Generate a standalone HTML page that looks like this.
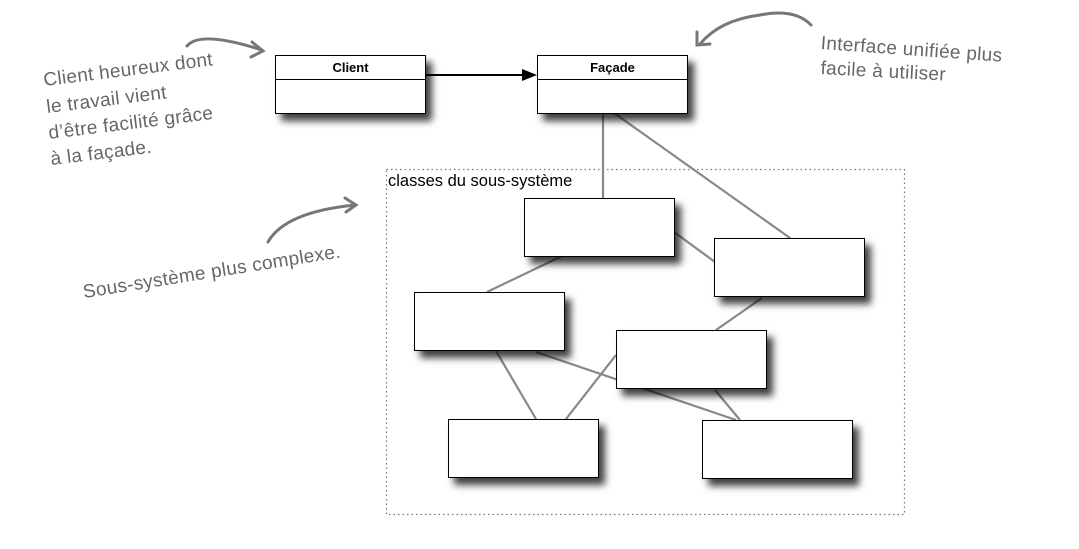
<!DOCTYPE html>
<html><head><meta charset="utf-8"><style>
body{margin:0;background:#fff;width:1079px;height:549px;overflow:hidden;position:relative;font-family:"Liberation Sans",sans-serif}
.b{position:absolute;background:#fff;border:1.5px solid #000;box-sizing:border-box;box-shadow:6px 7px 7px rgba(0,0,0,.75)}
.h{position:absolute;color:#666;font-size:19px;white-space:nowrap;transform-origin:0 100%;letter-spacing:0.3px}
</style></head><body>
<svg width="1079" height="549" style="position:absolute;left:0;top:0">
<rect x="386.5" y="169.5" width="518" height="345" fill="none" stroke="#777" stroke-width="1.2" stroke-dasharray="1.5,3"/>
<g stroke="#888" stroke-width="2.2" fill="none">
<line x1="603" y1="113" x2="603" y2="198"/>
<line x1="614" y1="113" x2="790" y2="238"/>
<line x1="674" y1="232" x2="715" y2="262"/>
<line x1="562" y1="256" x2="487" y2="292"/>
<line x1="762" y1="298" x2="716" y2="330"/>
<line x1="496" y1="351" x2="536" y2="419"/>
<line x1="536" y1="352" x2="736" y2="420"/>
<line x1="616" y1="355" x2="566" y2="419"/>
<line x1="715" y1="390" x2="740" y2="420"/>
</g>
<g stroke="#777" stroke-width="3" fill="none" stroke-linecap="round">
<path d="M187 46 Q200 30 262 50"/><path d="M252 42 L263 51 L251 57"/>
<path d="M268 242 Q285 212 355 205"/><path d="M345 198 L356 205 L346 212"/>
<path d="M811 25 Q795 8 760 15 Q720 20 700 44"/><path d="M697 32 L697 45 L710 44"/>
</g>
</svg>
<div class="b" style="left:275px;top:55px;width:151px;height:59px"><div style="height:23px;border-bottom:1px solid #000;text-align:center;font-weight:bold;font-size:13px;line-height:24px;font-family:'Liberation Sans Narrow','Liberation Sans',sans-serif">Client</div></div>
<div class="b" style="left:537px;top:55px;width:151px;height:59px"><div style="height:23px;border-bottom:1px solid #000;text-align:center;font-weight:bold;font-size:13px;line-height:24px;font-family:'Liberation Sans Narrow','Liberation Sans',sans-serif">Façade</div></div>
<svg width="1079" height="549" style="position:absolute;left:0;top:0">
<line x1="426" y1="75" x2="525" y2="75" stroke="#000" stroke-width="2"/>
<path d="M537 75 L522 69 L522 81 Z" fill="#000"/>
</svg>
<div style="position:absolute;left:388px;top:172px;font-size:16.5px">classes du sous-système</div>
<div class="b" style="left:524px;top:198px;width:151px;height:59px"></div>
<div class="b" style="left:714px;top:238px;width:151px;height:59px"></div>
<div class="b" style="left:414px;top:292px;width:151px;height:59px"></div>
<div class="b" style="left:616px;top:330px;width:151px;height:59px"></div>
<div class="b" style="left:448px;top:419px;width:151px;height:59px"></div>
<div class="b" style="left:702px;top:420px;width:151px;height:59px"></div>
<div class="h" style="left:45px;top:70px;transform:rotate(-7deg)">Client heureux dont</div>
<div class="h" style="left:48px;top:97px;transform:rotate(-7deg)">le travail vient</div>
<div class="h" style="left:50px;top:123px;transform:rotate(-7deg)">d’être facilité grâce</div>
<div class="h" style="left:52px;top:149px;transform:rotate(-7deg)">à la façade.</div>
<div class="h" style="left:85px;top:282px;transform:rotate(-9deg)">Sous-système plus complexe.</div>
<div class="h" style="left:820px;top:33px;transform:rotate(4deg)">Interface unifiée plus</div>
<div class="h" style="left:820px;top:58px;transform:rotate(3deg)">facile à utiliser</div>
</body></html>
